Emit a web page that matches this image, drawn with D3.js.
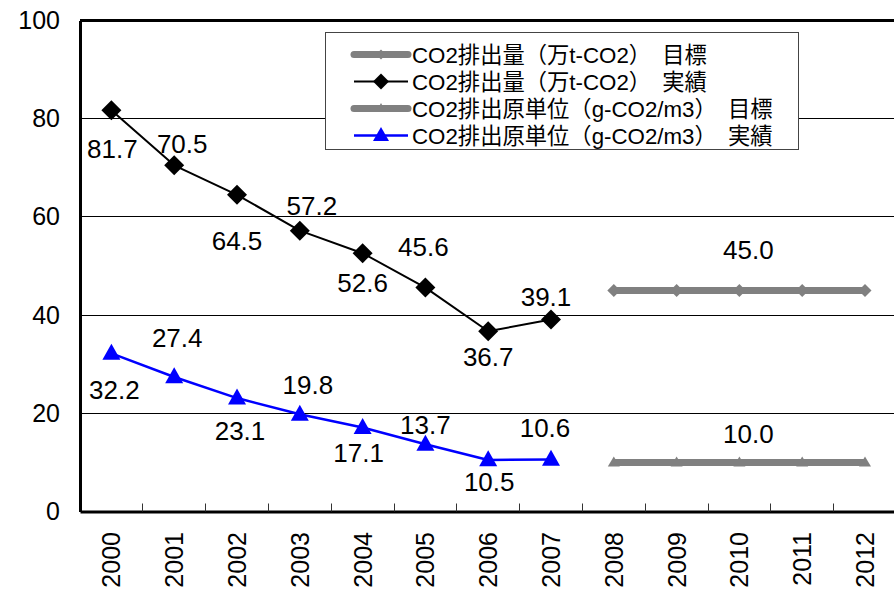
<!DOCTYPE html>
<html>
<head>
<meta charset="utf-8">
<script src="https://cdn.jsdelivr.net/npm/d3@7/dist/d3.min.js"></script>
<style>
  html, body { margin: 0; padding: 0; background: #fff; }
  svg { display: block; }
  text { font-family: "Liberation Sans", Arial, "Noto Sans CJK JP", sans-serif; fill: #000; }
</style>
</head>
<body>
<svg id="chart" width="894" height="592"></svg>
<script>
// Fiscal years on the category axis
const years = ["2000","2001","2002","2003","2004","2005","2006","2007","2008","2009","2010","2011","2012"];

// CO2 emissions (10k t-CO2): actual results and target
const emissionYears = ["2000","2001","2002","2003","2004","2005","2006","2007"];
const emissionActual = [81.7, 70.5, 64.5, 57.2, 52.6, 45.6, 36.7, 39.1];
const targetYears = ["2008","2009","2010","2011","2012"];
const emissionTarget = [45.0, 45.0, 45.0, 45.0, 45.0];

// CO2 emission intensity (g-CO2/m3): actual results and target
const intensityActual = [32.2, 27.4, 23.1, 19.8, 17.1, 13.7, 10.5, 10.6];
const intensityTarget = [10.0, 10.0, 10.0, 10.0, 10.0];

// Value axis ticks
const yTicks = [0, 20, 40, 60, 80, 100];

// Legend entries
const legendLabels = [
  "CO2排出量（万t-CO2）　目標",
  "CO2排出量（万t-CO2）　実績",
  "CO2排出原単位（g-CO2/m3）　目標",
  "CO2排出原単位（g-CO2/m3）　実績"
];

const svg = d3.select("#chart");
const plotLeft = 80, plotRight = 896.4, plotTop = 20.5, plotBottom = 511.5;

const x = d3.scaleBand().domain(years).range([plotLeft, plotRight]).padding(0);
const y = d3.scaleLinear().domain([0, 100]).range([plotBottom, plotTop]);
const cx = d => x(d) + x.bandwidth() / 2;
const crisp = v => Math.floor(v) + 0.5;

// Horizontal gridlines
svg.append("g")
  .selectAll("line")
  .data(yTicks.filter(t => t > 0 && t < 100))
  .join("line")
  .attr("x1", plotLeft).attr("x2", plotRight)
  .attr("y1", d => crisp(y(d))).attr("y2", d => crisp(y(d)))
  .attr("stroke", "#000").attr("stroke-width", 1);

// Plot frame: top edge
svg.append("line")
  .attr("x1", plotLeft).attr("x2", plotRight)
  .attr("y1", y(100)).attr("y2", y(100))
  .attr("stroke", "#000").attr("stroke-width", 3);

// Y axis
const yAxis = svg.append("g")
  .attr("transform", `translate(${plotLeft},0)`)
  .call(d3.axisLeft(y).tickValues(yTicks).tickSize(0).tickPadding(20).tickFormat(d3.format("d")));
yAxis.select(".domain").attr("stroke", "#000").attr("stroke-width", 3);
yAxis.selectAll("text").attr("font-size", 25).attr("font-family", "Liberation Sans, Arial, sans-serif").attr("fill", "#000");

// X axis with inward ticks between categories
const xAxis = svg.append("g")
  .attr("transform", `translate(0,${plotBottom})`)
  .call(d3.axisBottom(x).tickSize(0).tickFormat(""));
xAxis.select(".domain").attr("stroke", "#000").attr("stroke-width", 3);

svg.append("g")
  .selectAll("line")
  .data(years.slice(1))
  .join("line")
  .attr("x1", d => crisp(x(d))).attr("x2", d => crisp(x(d)))
  .attr("y1", plotBottom).attr("y2", plotBottom - 8)
  .attr("stroke", "#333").attr("stroke-width", 1);

svg.append("g")
  .selectAll("text")
  .data(years)
  .join("text")
  .attr("transform", d => `translate(${cx(d) + 9},532) rotate(-90)`)
  .attr("text-anchor", "end")
  .attr("font-size", 25)
  .text(d => d);

// Line and marker helpers
const diamond = s => `M0,${-s}L${s},0L0,${s}L${-s},0Z`;
const triangle = (w, h) => `M0,${-h * 0.6}L${w / 2},${h * 0.4}L${-w / 2},${h * 0.4}Z`;

function series(cats, vals, opts) {
  const pts = cats.map((c, i) => [cx(c), y(vals[i])]);
  svg.append("path")
    .attr("d", d3.line()(pts))
    .attr("fill", "none")
    .attr("stroke", opts.color)
    .attr("stroke-width", opts.width)
    .attr("stroke-linejoin", "round");
  svg.append("g")
    .selectAll("path")
    .data(pts)
    .join("path")
    .attr("transform", p => `translate(${p[0]},${p[1]})`)
    .attr("d", opts.marker)
    .attr("fill", opts.color);
  return pts;
}

const gray = "#808080";
const pE = series(emissionYears, emissionActual, { color: "#000", width: 2, marker: diamond(10) });
const pET = series(targetYears, emissionTarget, { color: gray, width: 7, marker: diamond(6.5) });
const pI = series(emissionYears, intensityActual, { color: "#0000ff", width: 2.5, marker: triangle(18, 16) });
const pIT = series(targetYears, intensityTarget, { color: gray, width: 7, marker: triangle(12, 10) });

// Data labels (offsets from each marker centre)
const emissionOffsets = [[1, 38], [8, -22], [0, 46], [12, -25], [0, 29], [-2, -41], [0, 25], [-5, -23]];
const intensityOffsets = [[3, 36], [3, -39], [3, 33], [8, -30], [-4, 25], [0, -20], [1, 22], [-6, -32]];

function labels(pts, vals, offs) {
  svg.append("g")
    .selectAll("text")
    .data(pts)
    .join("text")
    .attr("x", (p, i) => p[0] + offs[i][0])
    .attr("y", (p, i) => p[1] + offs[i][1] + 9.3)
    .attr("text-anchor", "middle")
    .attr("font-size", 26)
    .text((p, i) => d3.format(".1f")(vals[i]));
}
labels(pE, emissionActual, emissionOffsets);
labels(pI, intensityActual, intensityOffsets);

// Target labels sit above the middle target year
const mid = targetYears.indexOf("2010");
labels([pET[mid]], [emissionTarget[mid]], [[9, -41]]);
labels([pIT[mid]], [intensityTarget[mid]], [[9, -29]]);

// Legend
const lg = svg.append("g");
lg.append("rect")
  .attr("x", 325.5).attr("y", 32.5).attr("width", 473).attr("height", 117)
  .attr("fill", "#fff").attr("stroke", "#444").attr("stroke-width", 1);

const legendStyles = [
  { color: gray, width: 7, marker: diamond(5) },
  { color: "#000", width: 2, marker: diamond(8) },
  { color: gray, width: 7, marker: triangle(10, 9) },
  { color: "#0000ff", width: 2.5, marker: triangle(16, 14) }
];
legendLabels.forEach((t, i) => {
  const ry = 54.5 + i * 27;
  const st = legendStyles[i];
  lg.append("line")
    .attr("x1", 354).attr("x2", 408).attr("y1", ry).attr("y2", ry)
    .attr("stroke", st.color).attr("stroke-width", st.width)
    .attr("stroke-linecap", st.width > 5 ? "round" : "butt");
  lg.append("path")
    .attr("transform", `translate(381,${ry})`)
    .attr("d", st.marker).attr("fill", st.color);
  lg.append("text")
    .attr("x", 412).attr("y", ry + 8.5)
    .attr("font-size", 22.3)
    .text(t);
});
</script>
</body>
</html>
